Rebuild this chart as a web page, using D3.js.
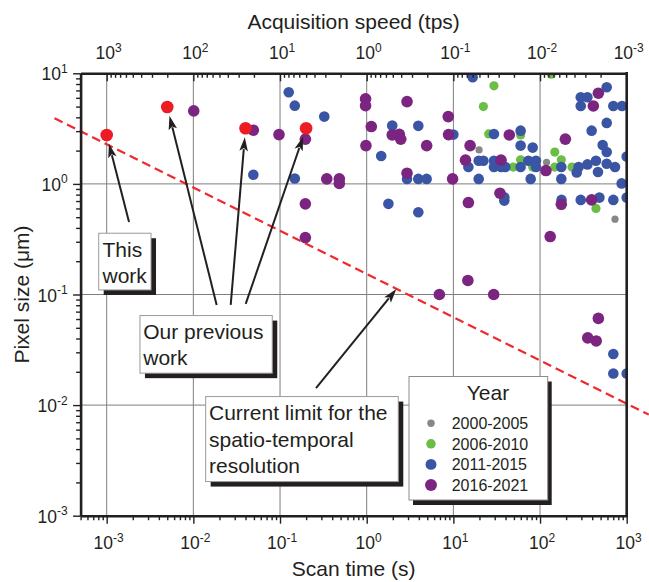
<!DOCTYPE html>
<html><head><meta charset="utf-8">
<script src="https://cdn.jsdelivr.net/npm/d3@7"></script>
<style>
body{margin:0;background:#fff}
svg{display:block}
text{font-family:"Liberation Sans",Arial,Helvetica,sans-serif;fill:#231f20}
</style>
</head><body>
<svg id="chart" width="649" height="582"></svg>
<script>
// ---------- data ----------
const scanTimeDomain = [5e-4, 1e3];          // s
const pixelSizeDomain = [1e-3, 10];          // µm
const bottomTickExps = [-3, -2, -1, 0, 1, 2, 3];
const topTickExps = [3, 2, 1, 0, -1, -2, -3];
const leftTickExps = [1, 0, -1, -2, -3];
const seriesNames = ["2000-2005", "2006-2010", "2011-2015", "2016-2021"];

// [scan time (s), pixel size (µm)]
const y2000_2005 = [[19.8,2.03],[119,1.57],[733,0.48]];
const y2006_2010 = [[29.4,7.7],[22.2,5.0],[135,9.8],[25.6,2.83],[59.7,2.77],[49.2,1.42],[59.7,1.65],
  [82.3,1.42],[148,1.94],[176,1.65],[148,1.42],[234,1.42],[442,0.6]];
const y2011_2015 = [[0.126,6.75],[0.148,5.1],[0.324,4.06],[0.0492,1.21],[0.148,1.12],[1.97,3.37],[3.94,3.35],
  [1.47,1.79],[2.92,1.11],[3.94,1.11],[4.92,1.11],[1.78,0.66],[3.94,0.555],[10,2.79],[16.7,9.2],[29.4,2.83],
  [59.7,3.03],[59.7,2.22],[82.3,2.13],[14.9,1.42],[19.6,1.62],[22.2,1.62],[19.6,1.11],[29.4,1.62],[29.4,1.42],
  [35.5,1.42],[39.8,1.42],[59.7,1.42],[73.3,1.62],[89.8,1.62],[89.8,1.42],[78,1.11],[38.7,0.758],[38.7,0.706],
  [176,1.42],[176,1.11],[265,1.27],[279,1.42],[352,1.5],[442,1.62],[588,1.52],[733,1.42],[466,1.28],[528,2.25],
  [588,1.94],[394,3.03],[588,3.56],[295,6.08],[352,6.08],[295,5.07],[588,7.49],[701,5.07],[883,5.07],[875,1.01],
  [1000,1.77],[177,0.717],[295,0.717],[484,0.752],[701,0.717],[1000,0.752],[701,0.029],[701,0.0193],[1000,0.0193]];
const y2016_2021 = [[0.0101,4.57],[0.0492,3.06],[0.0973,2.79],[0.196,2.54],[0.346,1.11],[0.483,1.11],[0.483,1.01],
  [0.196,0.66],[0.196,0.327],[0.97,5.87],[0.97,5.1],[2.92,5.55],[1.13,3.3],[1.97,2.77],[2.38,2.81],[2.47,2.54],
  [0.98,2.22],[4.92,2.22],[8.73,4.06],[8.8,2.79],[2.92,1.25],[9.8,1.11],[44.2,2.77],[15.6,2.22],[13.8,1.64],
  [35.5,1.64],[34.5,0.824],[14.9,0.678],[117,1.32],[196,2.54],[471,6.61],[412,5.07],[176,0.654],[394,0.717],
  [131,0.334],[14.7,0.134],[6.89,0.1],[29.2,0.1],[471,0.0608],[355,0.0405],[445,0.038]];
const ourWork = [[0.001,2.77],[0.005,4.96],[0.04,3.19],[0.2,3.19]];   // this work + previous work
const limitLine = [[2.5e-4,3.92],[1800,0.0082]];                       // current limit (dashed)

// annotation texts and anchors (data coordinates)
const annThisWork = {lines:["This","work"], corner:[8.09e-4,0.358], arrowFrom:[[1.81e-3,0.453]], targets:[0]};
const annPrevious = {lines:["Our previous","work"], corner:[2.42e-3,0.0645],
  arrowFrom:[[0.01858,0.0805],[0.02697,0.0805],[0.04018,0.0822]], targets:[1,2,3]};
const annLimit = {lines:["Current limit for the","spatio-temporal","resolution"], corner:[0.01387,0.01194],
  arrowFrom:[[0.26,0.01422]], tip:[2.2,0.112]};

// ---------- layout / style ----------
const L = 80.6, R = 626.7, T = 73.3, B = 515.7;
const colors = ["#878787", "#6abd45", "#3b55a5", "#7b2580"];
const radii = [3.6, 4.6, 5.3, 5.8];
const redColor = "#ed1c24";
const ink = "#231f20";

const svg = d3.select("#chart");
const x = d3.scaleLog().domain(scanTimeDomain).range([L, R]);
const xSpeed = d3.scaleLog().domain([1 / scanTimeDomain[0], 1 / scanTimeDomain[1]]).range([L, R]);
const y = d3.scaleLog().domain(pixelSizeDomain).range([B, T]);

function minorTicks(lo, hi) {
  const out = [];
  for (let e = Math.floor(Math.log10(lo)) - 1; e <= Math.ceil(Math.log10(hi)); e++)
    for (let k = 2; k <= 9; k++) { const v = k * Math.pow(10, e); if (v >= lo * 0.9999 && v <= hi * 1.0001) out.push(v); }
  return out;
}

// ---------- grid ----------
const grid = svg.append("g");
grid.selectAll("line.gx").data(bottomTickExps.map(e => Math.pow(10, e)).filter(v => v < scanTimeDomain[1]))
  .join("line").attr("class", "gx")
  .attr("x1", d => x(d)).attr("x2", d => x(d)).attr("y1", T).attr("y2", B)
  .attr("stroke", "#7f7f7f").attr("stroke-width", 1);
grid.selectAll("line.gy").data(leftTickExps.map(e => Math.pow(10, e)).filter(v => v > pixelSizeDomain[0] && v < pixelSizeDomain[1]))
  .join("line").attr("class", "gy")
  .attr("x1", L).attr("x2", R).attr("y1", d => y(d)).attr("y2", d => y(d))
  .attr("stroke", "#7f7f7f").attr("stroke-width", 1);

// ---------- points ----------
svg.append("defs").append("clipPath").attr("id", "plotClip")
  .append("rect").attr("x", L).attr("y", T).attr("width", R - L).attr("height", B - T);
const pts = svg.append("g").attr("clip-path", "url(#plotClip)");
[y2000_2005, y2006_2010, y2011_2015, y2016_2021].forEach((ser, i) => {
  pts.append("g").selectAll("circle").data(ser).join("circle")
    .attr("cx", d => x(d[0])).attr("cy", d => y(d[1])).attr("r", radii[i]).attr("fill", colors[i]);
});

// ---------- dashed limit line ----------
svg.append("path").datum(limitLine)
  .attr("d", d3.line().x(d => x(d[0])).y(d => y(d[1])))
  .attr("fill", "none").attr("stroke", "#ee2a2e").attr("stroke-width", 2.2).attr("stroke-dasharray", "9,5");

pts.append("g").selectAll("circle").data(ourWork).join("circle")
  .attr("cx", d => x(d[0])).attr("cy", d => y(d[1])).attr("r", 6.3).attr("fill", redColor);

// ---------- arrows ----------
const arrows = svg.append("g");
function arrow(x0, y0, x1, y1, stop) {
  let dx = x1 - x0, dy = y1 - y0; const len = Math.hypot(dx, dy);
  dx /= len; dy /= len;
  const tx = x1 - dx * stop, ty = y1 - dy * stop;
  const hl = 14, hw = 4.3;
  const bx = tx - dx * hl, by = ty - dy * hl;
  arrows.append("line").attr("x1", x0).attr("y1", y0).attr("x2", bx + dx * 2).attr("y2", by + dy * 2)
    .attr("stroke", ink).attr("stroke-width", 2);
  arrows.append("path")
    .attr("d", `M${tx},${ty}L${bx - dy * hw},${by + dx * hw}L${bx + dx * 3},${by + dy * 3}L${bx + dy * hw},${by - dx * hw}Z`)
    .attr("fill", ink);
}
[annThisWork, annPrevious].forEach(a => {
  a.arrowFrom.forEach((f, i) => {
    const t = ourWork[a.targets[i]];
    arrow(x(f[0]), y(f[1]), x(t[0]), y(t[1]), 9);
  });
});
annLimit.arrowFrom.forEach(f => arrow(x(f[0]), y(f[1]), x(annLimit.tip[0]), y(annLimit.tip[1]), 0));

// ---------- text boxes ----------
function textBox(a, w, h, pad, lineH, fs) {
  const bx = x(a.corner[0]), by = y(a.corner[1]);
  const g = svg.append("g");
  g.append("rect").attr("x", bx + 5).attr("y", by + 5).attr("width", w).attr("height", h).attr("fill", ink);
  g.append("rect").attr("x", bx).attr("y", by).attr("width", w).attr("height", h)
    .attr("fill", "#fff").attr("stroke", "#9a9a9a").attr("stroke-width", 1);
  a.lines.forEach((s, i) => {
    g.append("text").attr("x", bx + pad).attr("y", by + 23.3 + i * lineH)
      .attr("font-size", fs).text(s);
  });
}
textBox(annThisWork, 52.3, 56.7, 3.8, 26, 21);
textBox(annPrevious, 132.3, 57.6, 3.3, 25.8, 21);
textBox(annLimit, 192.6, 85, 3.3, 26.7, 21);

// ---------- legend ----------
const lg = svg.append("g");
const lx = 409, ly = 376.5, lw = 138.7, lh = 123.5;
lg.append("rect").attr("x", lx + 4).attr("y", ly + 5).attr("width", lw).attr("height", lh).attr("fill", ink);
lg.append("rect").attr("x", lx).attr("y", ly).attr("width", lw).attr("height", lh)
  .attr("fill", "#fff").attr("stroke", "#8c8c8c").attr("stroke-width", 1);
lg.append("text").attr("x", 488).attr("y", 400).attr("text-anchor", "middle").attr("font-size", 21).text("Year");
const rows = lg.selectAll("g.row").data(seriesNames).join("g").attr("class", "row")
  .attr("transform", (d, i) => `translate(0,${423.3 + i * 20.55})`);
rows.append("circle").attr("cx", 431).attr("cy", 0).attr("r", (d, i) => radii[i] * 1.03).attr("fill", (d, i) => colors[i]);
rows.append("text").attr("x", 451.7).attr("y", 5.8).attr("font-size", 16).text(d => d);

// ---------- axes ----------
const axW = 2.6;
function styleAxis(g) {
  g.select(".domain").attr("stroke", ink).attr("stroke-width", axW);
  g.selectAll(".tick line").attr("stroke", ink).attr("stroke-width", 1.4);
}
const majorX = bottomTickExps.map(e => Math.pow(10, e));
const majorS = topTickExps.map(e => Math.pow(10, e));
const majorY = leftTickExps.map(e => Math.pow(10, e));

// bottom
const gb = svg.append("g").attr("transform", `translate(0,${B})`);
gb.call(d3.axisBottom(x).tickValues(majorX).tickSize(8).tickSizeOuter(0).tickFormat(""));
gb.append("g").call(d3.axisBottom(x).tickValues(minorTicks(...scanTimeDomain)).tickSize(4.5).tickFormat("")).select(".domain").remove();
styleAxis(gb);
// top (ticks inward)
const gt = svg.append("g").attr("transform", `translate(0,${T})`);
gt.call(d3.axisTop(xSpeed).tickValues(majorS).tickSize(-8).tickSizeOuter(0).tickFormat(""));
gt.append("g").call(d3.axisTop(xSpeed).tickValues(minorTicks(1 / scanTimeDomain[1], 1 / scanTimeDomain[0])).tickSize(-4.5).tickFormat("")).select(".domain").remove();
styleAxis(gt);
// left
const gl = svg.append("g").attr("transform", `translate(${L},0)`);
gl.call(d3.axisLeft(y).tickValues(majorY).tickSize(7.5).tickSizeOuter(0).tickFormat(""));
gl.append("g").call(d3.axisLeft(y).tickValues(minorTicks(...pixelSizeDomain)).tickSize(4.5).tickFormat("")).select(".domain").remove();
styleAxis(gl);
// right (line only)
svg.append("line").attr("x1", R).attr("x2", R).attr("y1", T - axW / 2).attr("y2", B + axW / 2)
  .attr("stroke", ink).attr("stroke-width", axW);

// tick labels with superscripts
function powLabel(sel, exp) {
  sel.append("tspan").text("10");
  sel.append("tspan").attr("dy", -7.5).attr("font-size", 12).text(exp);
}
const tlFs = 17.5;
bottomTickExps.forEach(e => {
  svg.append("text").attr("x", x(Math.pow(10, e)) + 2).attr("y", 549).attr("text-anchor", "middle")
    .attr("font-size", tlFs).call(powLabel, e);
});
topTickExps.forEach(e => {
  svg.append("text").attr("x", xSpeed(Math.pow(10, e)) + 2).attr("y", 59).attr("text-anchor", "middle")
    .attr("font-size", tlFs).call(powLabel, e);
});
leftTickExps.forEach(e => {
  svg.append("text").attr("x", L - 13).attr("y", y(Math.pow(10, e)) + 7).attr("text-anchor", "end")
    .attr("font-size", tlFs).call(powLabel, e);
});

// axis titles
svg.append("text").attr("x", (L + R) / 2).attr("y", 576).attr("text-anchor", "middle").attr("font-size", 21).text("Scan time (s)");
svg.append("text").attr("x", (L + R) / 2).attr("y", 29).attr("text-anchor", "middle").attr("font-size", 21).text("Acquisition speed (tps)");
svg.append("text").attr("transform", `translate(29,${(T + B) / 2}) rotate(-90)`).attr("text-anchor", "middle")
  .attr("font-size", 21).text("Pixel size (μm)");
</script>
</body></html>
